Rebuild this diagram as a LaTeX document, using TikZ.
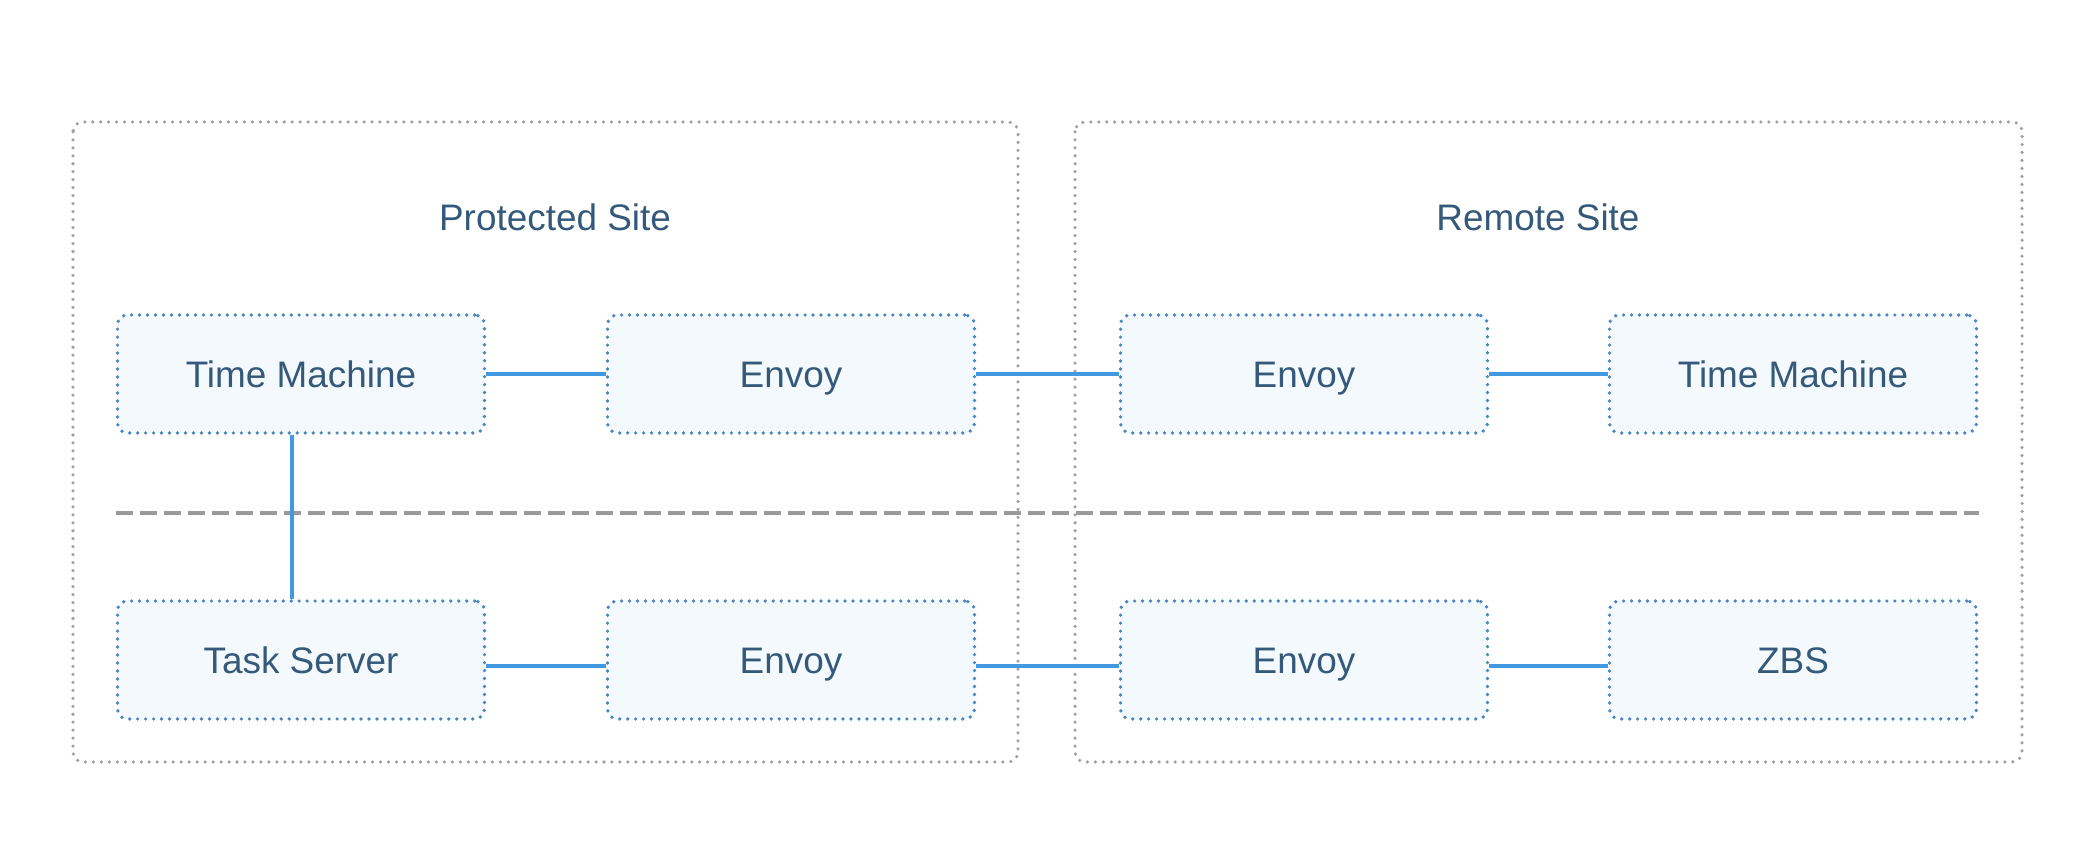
\documentclass[tikz,border=0pt]{standalone}
\usepackage{fontspec}
\setmainfont{Liberation Sans}
\usetikzlibrary{calc}
\definecolor{txtblue}{HTML}{34597A}
\definecolor{boxfill}{HTML}{F4F9FD}
\definecolor{boxline}{HTML}{4A86BF}
\definecolor{linkblue}{HTML}{4299E1}
\definecolor{siteline}{HTML}{A0A0A0}
\definecolor{sepgray}{HTML}{9A9A9A}
\tikzset{
    site/.style={draw=siteline, line width=1pt, line cap=round, dash pattern=on 0pt off 2.27pt, rounded corners=2.8pt},
    comp/.style={draw=boxline, fill=boxfill, line width=1.05pt, line cap=round, dash pattern=on 0pt off 2.27pt, rounded corners=2.8pt, minimum width=3.67cm, minimum height=1.18cm, inner sep=0pt, text height=2.7mm, text depth=0pt, text=txtblue, font=\fontsize{10.5}{12}\selectfont},
    sitetitle/.style={text=txtblue, font=\fontsize{10.5}{12}\selectfont},
    link/.style={draw=linkblue, line width=0.9pt},
}

\begin{document}
\begin{tikzpicture}
        \useasboundingbox (0,0) rectangle (20.84,-8.61);
        \draw[site] (0.73,-1.22) rectangle (10.18,-7.62);
        \draw[site] (10.75,-1.22) rectangle (20.22,-7.62);
        \node[sitetitle] (protected) at (5.55,-2.17) {Protected Site};
        \node[sitetitle] (remote) at (15.38,-2.17) {Remote Site};
        
        \node[comp] (tmA) at (3.01,-3.74) {Time Machine};
        \node[comp] (envA) at (7.91,-3.74) {Envoy};
        \node[comp] (envB) at (13.04,-3.74) {Envoy};
        \node[comp] (tmB) at (17.93,-3.74) {Time Machine};
        \node[comp] (task) at (3.01,-6.60) {Task Server};
        \node[comp] (envC) at (7.91,-6.60) {Envoy};
        \node[comp] (envD) at (13.04,-6.60) {Envoy};
        \node[comp] (zbs) at (17.93,-6.60) {ZBS};
        
        \draw[sepgray, line width=1pt, dash pattern=on 0.17cm off 0.07cm] (1.16,-5.13) -- (19.79,-5.13);
        
        \draw[link] (tmA.east) -- (envA.west);
        \draw[link] (envA.east) -- (envB.west);
        \draw[link] (envB.east) -- (tmB.west);
        \draw[link] ([yshift=-0.06cm]task.east) -- ([yshift=-0.06cm]envC.west);
        \draw[link] ([yshift=-0.06cm]envC.east) -- ([yshift=-0.06cm]envD.west);
        \draw[link] ([yshift=-0.06cm]envD.east) -- ([yshift=-0.06cm]zbs.west);
        \draw[link] ([xshift=-0.09cm]tmA.south) -- ([xshift=-0.09cm]task.north);
    \end{tikzpicture}
\end{document}
